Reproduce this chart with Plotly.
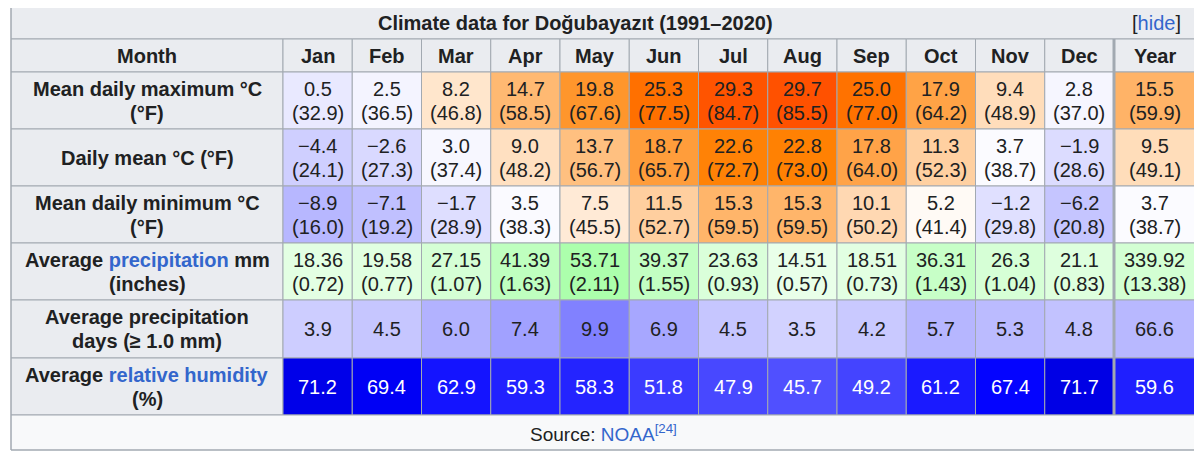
import plotly.graph_objects as go

# ---------------- data ----------------
months = ["Jan", "Feb", "Mar", "Apr", "May", "Jun", "Jul", "Aug", "Sep", "Oct", "Nov", "Dec", "Year"]
max_c = [0.5, 2.5, 8.2, 14.7, 19.8, 25.3, 29.3, 29.7, 25.0, 17.9, 9.4, 2.8, 15.5]
max_f = [32.9, 36.5, 46.8, 58.5, 67.6, 77.5, 84.7, 85.5, 77.0, 64.2, 48.9, 37.0, 59.9]
mean_c = [-4.4, -2.6, 3.0, 9.0, 13.7, 18.7, 22.6, 22.8, 17.8, 11.3, 3.7, -1.9, 9.5]
mean_f = [24.1, 27.3, 37.4, 48.2, 56.7, 65.7, 72.7, 73.0, 64.0, 52.3, 38.7, 28.6, 49.1]
min_c = [-8.9, -7.1, -1.7, 3.5, 7.5, 11.5, 15.3, 15.3, 10.1, 5.2, -1.2, -6.2, 3.7]
min_f = [16.0, 19.2, 28.9, 38.3, 45.5, 52.7, 59.5, 59.5, 50.2, 41.4, 29.8, 20.8, 38.7]
precip_mm = [18.36, 19.58, 27.15, 41.39, 53.71, 39.37, 23.63, 14.51, 18.51, 36.31, 26.3, 21.1, 339.92]
precip_in = [0.72, 0.77, 1.07, 1.63, 2.11, 1.55, 0.93, 0.57, 0.73, 1.43, 1.04, 0.83, 13.38]
precip_days = [3.9, 4.5, 6.0, 7.4, 9.9, 6.9, 4.5, 3.5, 4.2, 5.7, 5.3, 4.8, 66.6]
humidity = [71.2, 69.4, 62.9, 59.3, 58.3, 51.8, 47.9, 45.7, 49.2, 61.2, 67.4, 71.7, 59.6]

title_text = "Climate data for Doğubayazıt (1991–2020)"
row_labels = [
    ["Mean daily maximum °C", "(°F)"],
    ["Daily mean °C (°F)"],
    ["Mean daily minimum °C", "(°F)"],
    ["Average <span style='color:#3366cc'>precipitation</span> mm", "(inches)"],
    ["Average precipitation", "days (≥ 1.0 mm)"],
    ["Average <span style='color:#3366cc'>relative humidity</span>", "(%)"],
]

# ---------------- layout constants ----------------
W, H = 1202, 456
OFF = 8  # page body margin compensation
FONT = "Liberation Sans, Arial, sans-serif"
FS = 20
TXT = "#202122"
LINK = "#3366cc"
BORDER = "#a2a9b1"
HEAD_BG = "#eaecf0"
FOOT_BG = "#f8f9fa"
LEFT, RIGHT = 11, 1195
LABEL_R = 283
MONTH_W = 69.25
row_edges = [6, 39, 72, 129, 186, 243, 300, 358, 415, 450]


def col_edges(i):
    if i < 12:
        return LABEL_R + MONTH_W * i, LABEL_R + MONTH_W * (i + 1)
    return LABEL_R + MONTH_W * 12, RIGHT


def fmt1(v):
    return f"{v:.1f}".replace("-", "−")


def fmtg(v):
    return f"{v:g}"


def clamp(x):
    return int(round(max(0, min(255, x))))


def temp_color(v):
    if v < 4.5:
        c = 255 - (4.5 - v) * 255 / 47.25
        return f"rgb({clamp(c)},{clamp(c)},255)"
    g = 255 - (v - 4.5) * 255 / 37.0
    b = 255 - (v - 4.5) * 255 / 18.5
    return f"rgb(255,{clamp(g)},{clamp(b)})"


def precip_color(v, factor):
    c = 255 - (v / factor) * 255 / 165.0
    return f"rgb({clamp(c)},255,{clamp(c)})"


def days_color(v, factor):
    c = 255 - (v / factor) * 12.75
    return f"rgb({clamp(c)},{clamp(c)},255)"


def hum_color(v):
    c = (68.6 - v) * 3.5
    b = 255 - max(0, v - 68.0) * 7
    return f"rgb({clamp(c)},{clamp(c)},{clamp(b)})"


shapes = []
annotations = []


def rect(x0, x1, y0, y1, fill, lw=1):
    shapes.append(dict(type="rect", xref="x", yref="y", x0=x0, x1=x1, y0=y0, y1=y1,
                       fillcolor=fill, line=dict(color=BORDER, width=lw), layer="below"))


def text(x, y, s, color=TXT, size=FS, xanchor="center"):
    annotations.append(dict(x=x, y=y, xref="x", yref="y", text=s, showarrow=False,
                            xanchor=xanchor, yanchor="middle",
                            font=dict(family=FONT, size=size, color=color)))


def cell_lines(xc, y0, y1, lines, color=TXT):
    yc = (y0 + y1) / 2
    if len(lines) == 1:
        text(xc, yc, lines[0], color)
    else:
        text(xc, yc - 12, lines[0], color)
        text(xc, yc + 12, lines[1], color)


# title row
rect(LEFT, RIGHT, row_edges[0], row_edges[1], HEAD_BG)
text(575, (row_edges[0] + row_edges[1]) / 2, f"<b>{title_text}</b>")
text(1183, (row_edges[0] + row_edges[1]) / 2,
     f"[<span style='color:{LINK}'>hide</span>]", xanchor="right")

# header row
y0, y1 = row_edges[1], row_edges[2]
rect(LEFT, LABEL_R, y0, y1, HEAD_BG)
text((LEFT + LABEL_R) / 2, (y0 + y1) / 2, "<b>Month</b>")
for i, m in enumerate(months):
    a, b = col_edges(i)
    rect(a, b, y0, y1, HEAD_BG)
    text((a + b) / 2, (y0 + y1) / 2, f"<b>{m}</b>")

# data rows
rows = []
rows.append(([temp_color(v) for v in max_c],
             [[fmt1(c), f"({fmt1(f)})"] for c, f in zip(max_c, max_f)], TXT))
rows.append(([temp_color(v) for v in mean_c],
             [[fmt1(c), f"({fmt1(f)})"] for c, f in zip(mean_c, mean_f)], TXT))
rows.append(([temp_color(v) for v in min_c],
             [[fmt1(c), f"({fmt1(f)})"] for c, f in zip(min_c, min_f)], TXT))
rows.append(([precip_color(v, 12 if i == 12 else 1) for i, v in enumerate(precip_mm)],
             [[fmtg(mm), f"({fmtg(inch)})"] for mm, inch in zip(precip_mm, precip_in)], TXT))
rows.append(([days_color(v, 12 if i == 12 else 1) for i, v in enumerate(precip_days)],
             [[fmt1(v)] for v in precip_days], TXT))
rows.append(([hum_color(v) for v in humidity],
             [[fmt1(v)] for v in humidity], "#ffffff"))

for r, (colors, texts, tcolor) in enumerate(rows):
    y0, y1 = row_edges[r + 2], row_edges[r + 3]
    rect(LEFT, LABEL_R, y0, y1, HEAD_BG)
    cell_lines((LEFT + LABEL_R) / 2, y0, y1, [f"<b>{s}</b>" for s in row_labels[r]])
    for i in range(len(months)):
        a, b = col_edges(i)
        rect(a, b, y0, y1, colors[i])
        cell_lines((a + b) / 2, y0, y1, texts[i], tcolor)

# thick separator before Year
xs = col_edges(12)[0]
shapes.append(dict(type="line", xref="x", yref="y", x0=xs, x1=xs,
                   y0=row_edges[1], y1=row_edges[8], line=dict(color=BORDER, width=3)))

# source row
y0, y1 = row_edges[8], row_edges[9]
rect(LEFT, RIGHT, y0, y1, FOOT_BG)
text((LEFT + RIGHT) / 2, (y0 + y1) / 2,
     f"Source: <span style='color:{LINK}'>NOAA<sup>[24]</sup></span>", size=19)

# outer border
shapes.append(dict(type="rect", xref="x", yref="y", x0=LEFT, x1=RIGHT,
                   y0=row_edges[0], y1=row_edges[-1], line=dict(color=BORDER, width=1),
                   fillcolor="rgba(0,0,0,0)", layer="above"))

fig = go.Figure()
fig.update_layout(
    width=W, height=H, margin=dict(l=0, r=0, t=0, b=0),
    paper_bgcolor="white", plot_bgcolor="white",
    xaxis=dict(range=[OFF, W + OFF], visible=False, fixedrange=True),
    yaxis=dict(range=[H + OFF, OFF], visible=False, fixedrange=True),
    shapes=shapes, annotations=annotations, showlegend=False,
)
fig.write_html("out.html")
